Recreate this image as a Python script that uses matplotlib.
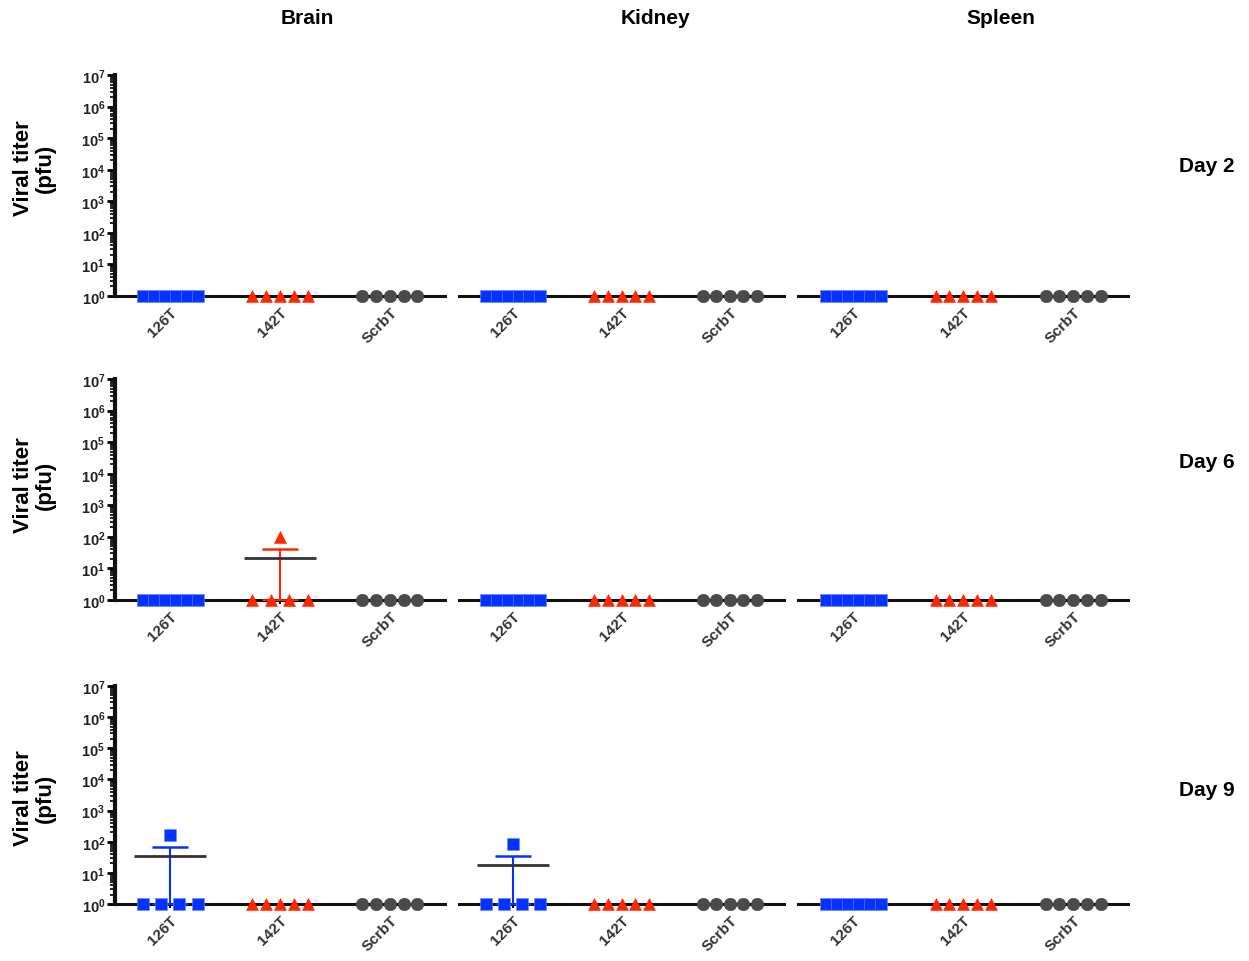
import numpy as np
import matplotlib
matplotlib.use("Agg")
import matplotlib.pyplot as plt
from matplotlib.ticker import LogLocator, FuncFormatter, NullFormatter

plt.rcParams["font.family"] = ["Liberation Sans", "DejaVu Sans"]
plt.rcParams["mathtext.fontset"] = "custom"
plt.rcParams["mathtext.rm"] = "Liberation Sans"
plt.rcParams["mathtext.bf"] = "Liberation Sans:bold"

# groups, organs, days
groups = ["126T", "142T", "ScrbT"]
organs = ["Brain", "Kidney", "Spleen"]
days = ["Day 2", "Day 6", "Day 9"]

# viral titers (pfu), 1 = limit of detection
baseline_126T = [1, 1, 1, 1, 1, 1]
baseline_142T = [1, 1, 1, 1, 1]
baseline_scrbT = [1, 1, 1, 1, 1]
d6_brain_142T = [1, 1, 1, 1, 100]
d9_brain_126T = [1, 1, 1, 1, 170]
d9_kidney_126T = [1, 1, 1, 1, 87]

colors = ["#0433ff", "#ff2600", "#4a4a4a"]
markers = ["s", "^", "o"]
msizes = [8.5, 8.5, 9]

# panel layout in pixels (left, right) per column, (top, bottom) per row
W, H = 1249, 962
col_px = [(115, 445), (459, 784), (798, 1128)]
row_px = [(76, 297), (380, 601), (687, 905)]
title_x = [307, 655, 1001]
day_y = [166, 462, 791]
ylab_y = [168, 485, 798]


def get_values(day, organ, group):
    if day == "Day 6" and organ == "Brain" and group == "142T":
        return d6_brain_142T
    if day == "Day 9" and organ == "Brain" and group == "126T":
        return d9_brain_126T
    if day == "Day 9" and organ == "Kidney" and group == "126T":
        return d9_kidney_126T
    return {"126T": baseline_126T, "142T": baseline_142T, "ScrbT": baseline_scrbT}[group]


def spread(vals, center, span=0.5):
    """Spread the points sitting at the baseline side by side."""
    vals = np.asarray(vals, dtype=float)
    xs = np.full(len(vals), center, dtype=float)
    low = np.where(vals == vals.min())[0]
    if len(low) > 1:
        xs[low] = center + np.linspace(-span / 2, span / 2, len(low))
    return xs


fig = plt.figure(figsize=(W / 100, H / 100), dpi=100)

for r, day in enumerate(days):
    for c, organ in enumerate(organs):
        x0, x1 = col_px[c]
        y0, y1 = row_px[r]
        ax = fig.add_axes([x0 / W, 1 - y1 / H, (x1 - x0) / W, (y1 - y0) / H])
        ax.set_yscale("log")
        ax.set_ylim(1, 1e7)
        ax.set_xlim(-0.5, 2.5)
        for s in ["top", "right"]:
            ax.spines[s].set_visible(False)
        ax.spines["bottom"].set_linewidth(2.2)
        ax.spines["bottom"].set_color("#111111")

        if c == 0:
            ax.spines["left"].set_linewidth(3)
            ax.spines["left"].set_color("#111111")
            ax.yaxis.set_major_locator(LogLocator(base=10, numticks=10))
            ax.yaxis.set_minor_locator(LogLocator(base=10, subs=np.arange(2, 10), numticks=20))
            ax.yaxis.set_major_formatter(
                FuncFormatter(lambda v, p: r"$\mathbf{10^{%d}}$" % round(np.log10(v))))
            ax.yaxis.set_minor_formatter(NullFormatter())
            ax.tick_params(axis="y", which="major", length=6, width=2, labelsize=10.5,
                           pad=1, labelcolor="#222222")
            ax.tick_params(axis="y", which="minor", length=3.5, width=1.2)
            fig.text(34 / W, 1 - ylab_y[r] / H, "Viral titer\n(pfu)", rotation=90,
                     fontsize=16, fontweight="bold", ha="center", va="center",
                     linespacing=1.05)
        else:
            ax.spines["left"].set_visible(False)
            ax.set_yticks([])
            ax.yaxis.set_minor_locator(plt.NullLocator())

        ax.set_xticks(range(len(groups)))
        ax.set_xticklabels(groups, rotation=45, ha="right", rotation_mode="anchor",
                           fontsize=11, fontweight="bold", color="#333333")
        ax.tick_params(axis="x", length=3, width=1.5, pad=3)

        for i, g in enumerate(groups):
            vals = np.asarray(get_values(day, organ, g), dtype=float)
            xs = spread(vals, i)
            mean = vals.mean()
            sem = vals.std(ddof=1) / np.sqrt(len(vals))
            if sem > 0:
                ax.errorbar(i, mean, yerr=[[sem], [sem]], fmt="none", ecolor=colors[i],
                            elinewidth=1.5, capsize=13, capthick=1.8, zorder=3)
                ax.hlines(mean, i - 0.33, i + 0.33, color="#333333", lw=2, zorder=3)
            ax.plot(xs, vals, linestyle="none", marker=markers[i], color=colors[i],
                    markersize=msizes[i], markeredgewidth=0.4, markeredgecolor="#6d86ff"
                    if i == 0 else colors[i], clip_on=False, zorder=4)

        if r == 0:
            fig.text(title_x[c] / W, 1 - 18 / H, organ, fontsize=15, fontweight="bold",
                     ha="center", va="center")
        if c == 2:
            fig.text(1207 / W, 1 - day_y[r] / H, day, fontsize=15, fontweight="bold",
                     ha="center", va="center")

fig.savefig("out.png", dpi=100)
